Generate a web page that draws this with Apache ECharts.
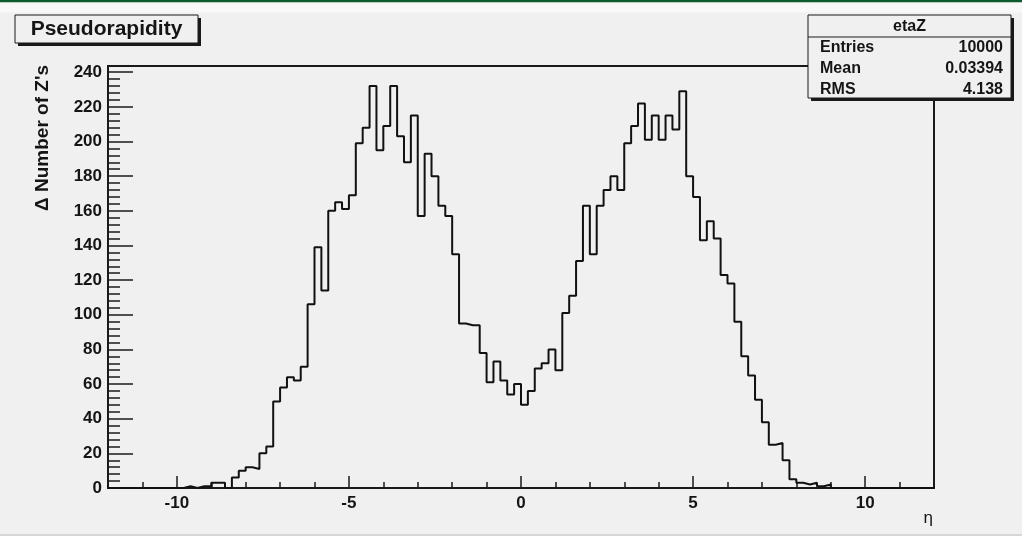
<!DOCTYPE html>
<html><head><meta charset="utf-8">
<script src="https://cdn.jsdelivr.net/npm/echarts@6/dist/echarts.min.js"></script>
<style>html,body{margin:0;padding:0;background:#f0f0f0}#c{width:1022px;height:536px}</style>
</head><body><div id="c"></div>
<script>
// ---- data ----
const binLow = -12;
const binWidth = 0.2;
const counts = [
  0,0,0,0,0,0,0,0,0,0,
  0,1,0,1,1,3,3,0,6,10,
  12,11,20,24,50,58,64,62,70,106,
  139,114,160,165,161,169,199,208,232,195,
  209,232,203,188,215,157,193,180,163,157,
  135,95,94,94,78,61,73,62,54,60,
  48,56,69,72,80,68,101,111,131,163,
  135,163,172,180,172,199,209,222,201,215,
  201,215,207,229,180,168,143,154,144,123,
  118,96,76,65,51,38,25,26,16,5,
  3,2,3,1,2,0,0,0,0,0,
  0,0,0,0,0,0,0,0,0,0
];
const xTickValues = [-10, -5, 0, 5, 10];
const xMinorStep = 1;
const yTickStep = 20;
const titleText = 'Pseudorapidity';
const statsName = 'etaZ';
const statsLabels = ['Entries', 'Mean', 'RMS'];
const statsValues = ['10000', '0.03394', '4.138'];
const xAxisTitle = 'η';
const yAxisTitle = 'Δ Number of Z\'s';

// ---- build ----
const xMin = binLow, xMax = binLow + counts.length * binWidth;
const yMax = Math.max(...counts) * 1.05;
const stepData = counts.map((v, i) => [+(binLow + i * binWidth).toFixed(4), v]);
stepData.push([xMax, counts[counts.length - 1]]);

const FF = '"Liberation Sans", Arial, Helvetica, sans-serif';
const INK = '#151515';

const chart = echarts.init(document.getElementById('c'), null, {renderer: 'canvas'});

function shadowBox(x, y, w, h, extra) {
  return {
    type: 'group', z: 100,
    children: [
      {type: 'rect', shape: {x: x + 3, y: y + 3, width: w, height: h}, style: {fill: '#1a1a1a'}},
      {type: 'rect', shape: {x: x, y: y, width: w, height: h}, style: {fill: '#f0f0f0', stroke: '#1a1a1a', lineWidth: 1}}
    ].concat(extra || [])
  };
}

const statsRows = [];
statsLabels.forEach((lab, i) => {
  const yy = 47.5 + i * 21;
  statsRows.push({type: 'text', x: 820, y: yy, style: {text: lab, align: 'left', verticalAlign: 'middle', fontSize: 16, fontWeight: 'bold', fontFamily: FF, fill: INK}});
  statsRows.push({type: 'text', x: 1003, y: yy, style: {text: statsValues[i], align: 'right', verticalAlign: 'middle', fontSize: 16, fontWeight: 'bold', fontFamily: FF, fill: INK}});
});

chart.setOption({
  animation: false,
  backgroundColor: '#f0f0f0',
  grid: {left: 108, right: 88, top: 66, bottom: 48, show: true, borderColor: '#1a1a1a', borderWidth: 2, backgroundColor: 'transparent'},
  xAxis: [
    {
      type: 'value', min: xMin, max: xMax, interval: xMinorStep, position: 'bottom',
      axisLine: {show: true, onZero: false, lineStyle: {color: '#1a1a1a', width: 2}},
      axisTick: {show: true, inside: true, length: 6, lineStyle: {color: '#1a1a1a', width: 1.5}},
      axisLabel: {show: false},
      splitLine: {show: false}
    },
    {
      type: 'value', min: xMin, max: xMax, position: 'bottom',
      axisLine: {show: false, onZero: false},
      axisTick: {show: true, inside: true, length: 12, customValues: xTickValues, lineStyle: {color: '#1a1a1a', width: 1.5}},
      axisLabel: {show: true, customValues: xTickValues, margin: 7, fontSize: 17, fontWeight: 'bold', fontFamily: FF, color: INK},
      splitLine: {show: false}
    }
  ],
  yAxis: {
    type: 'value', min: 0, max: yMax, interval: yTickStep, position: 'left',
    axisLine: {show: true, onZero: false, lineStyle: {color: '#1a1a1a', width: 2}},
    axisTick: {show: true, inside: true, length: 25, lineStyle: {color: '#1a1a1a', width: 1.5}},
    minorTick: {show: true, splitNumber: 5, length: 12, lineStyle: {color: '#1a1a1a', width: 1.5}},
    axisLabel: {show: true, showMaxLabel: false, margin: 6, fontSize: 17, fontWeight: 'bold', fontFamily: FF, color: INK},
    splitLine: {show: false}, minorSplitLine: {show: false}
  },
  series: [{
    type: 'line', xAxisIndex: 0, step: 'end', data: stepData,
    showSymbol: false, symbol: 'none', clip: true,
    lineStyle: {color: '#111', width: 2},
    z: 5
  }],
  graphic: [
    {type: 'rect', z: 90, shape: {x: 0, y: 0, width: 1022, height: 2.5}, style: {fill: '#0d5a2e'}},
    {type: 'rect', z: 90, shape: {x: 0, y: 2.5, width: 1022, height: 10}, style: {fill: '#f8f8f8'}},
    {type: 'rect', z: 90, shape: {x: 0, y: 534, width: 1022, height: 2}, style: {fill: '#d6d6d6'}},
    shadowBox(15, 15, 183, 28, [
      {type: 'text', x: 106.5, y: 29.5, style: {text: titleText, align: 'center', verticalAlign: 'middle', fontSize: 21, fontWeight: 'bold', fontFamily: FF, fill: INK}}
    ]),
    shadowBox(808, 15, 203, 83, [
      {type: 'line', shape: {x1: 808, y1: 37, x2: 1011, y2: 37}, style: {stroke: '#1a1a1a', lineWidth: 1}},
      {type: 'text', x: 909.5, y: 27, style: {text: statsName, align: 'center', verticalAlign: 'middle', fontSize: 16, fontWeight: 'bold', fontFamily: FF, fill: INK}}
    ].concat(statsRows)),
    {type: 'text', z: 100, x: 43, y: 65, rotation: Math.PI / 2, style: {text: yAxisTitle, align: 'right', verticalAlign: 'middle', fontSize: 19, fontWeight: 'bold', fontFamily: FF, fill: INK}},
    {type: 'text', z: 100, x: 933, y: 518, style: {text: xAxisTitle, align: 'right', verticalAlign: 'middle', fontSize: 17, fontFamily: FF, fill: INK}}
  ]
});
</script>
</body></html>
